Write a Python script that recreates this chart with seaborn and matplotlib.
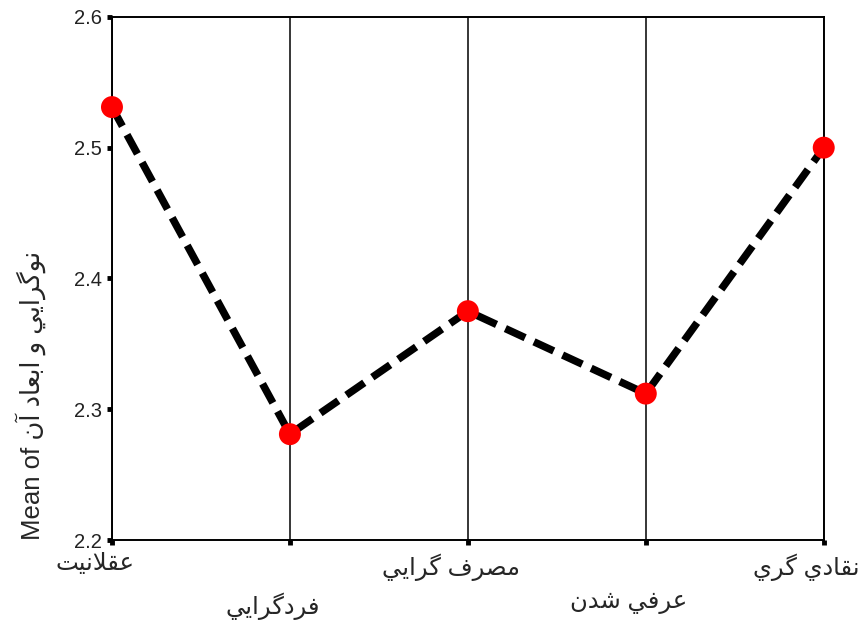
import matplotlib
matplotlib.use('Agg')
import matplotlib.pyplot as plt
import matplotlib.transforms as mtransforms
import seaborn as sns

categories = ['عقلانيت', 'فردگرايي', 'مصرف گرايي', 'عرفي شدن', 'نقادي گري']
means = [2.531, 2.281, 2.375, 2.312, 2.500]
y_ticks = [2.2, 2.3, 2.4, 2.5, 2.6]
y_label_latin = 'Mean of '
y_label_fa = 'نوگرايي و ابعاد آن'

# matplotlib 3.10 has no arabic shaping, so pick the presentation forms by hand
FORMS = {
    '\u0627': ('\uFE8D', '\uFE8E', None, None),
    '\u0622': ('\uFE81', '\uFE82', None, None),
    '\u0628': ('\uFE8F', '\uFE90', '\uFE91', '\uFE92'),
    '\u062A': ('\uFE95', '\uFE96', '\uFE97', '\uFE98'),
    '\u062F': ('\uFEA9', '\uFEAA', None, None),
    '\u0631': ('\uFEAD', '\uFEAE', None, None),
    '\u0634': ('\uFEB5', '\uFEB6', '\uFEB7', '\uFEB8'),
    '\u0635': ('\uFEB9', '\uFEBA', '\uFEBB', '\uFEBC'),
    '\u0639': ('\uFEC9', '\uFECA', '\uFECB', '\uFECC'),
    '\u0641': ('\uFED1', '\uFED2', '\uFED3', '\uFED4'),
    '\u0642': ('\uFED5', '\uFED6', '\uFED7', '\uFED8'),
    '\u0644': ('\uFEDD', '\uFEDE', '\uFEDF', '\uFEE0'),
    '\u0645': ('\uFEE1', '\uFEE2', '\uFEE3', '\uFEE4'),
    '\u0646': ('\uFEE5', '\uFEE6', '\uFEE7', '\uFEE8'),
    '\u0648': ('\uFEED', '\uFEEE', None, None),
    '\u064A': ('\uFEF1', '\uFEF2', '\uFEF3', '\uFEF4'),
    '\u06CC': ('\uFBFC', '\uFBFD', '\uFBFE', '\uFBFF'),
    '\u06AF': ('\uFB92', '\uFB93', '\uFB94', '\uFB95'),
}
LAM_ALEF = 'LA'


def shape(text):
    tokens = []
    i = 0
    while i < len(text):
        if text[i] == '\u0644' and i + 1 < len(text) and text[i + 1] == '\u0627':
            tokens.append(LAM_ALEF)
            i += 2
        else:
            tokens.append(text[i])
            i += 1
    out = []
    for i, c in enumerate(tokens):
        prev = tokens[i - 1] if i > 0 else None
        nxt = tokens[i + 1] if i + 1 < len(tokens) else None
        join_prev = prev in FORMS and FORMS[prev][2] is not None
        if c == LAM_ALEF:
            out.append('\uFEFC' if join_prev else '\uFEFB')
            continue
        if c not in FORMS:
            out.append(c)
            continue
        iso, fin, ini, med = FORMS[c]
        join_next = ini is not None and (nxt in FORMS or nxt == LAM_ALEF)
        if join_prev and join_next:
            out.append(med)
        elif join_prev:
            out.append(fin)
        elif join_next:
            out.append(ini)
        else:
            out.append(iso)
    return ''.join(reversed(out))


sns.set_style('white')
plt.rcParams['font.family'] = ['Liberation Sans', 'DejaVu Sans']

fig = plt.figure(figsize=(8.68, 6.23), dpi=100)
ax = fig.add_axes([0.129, 0.133, 0.820, 0.840])

positions = list(range(len(categories)))
sns.lineplot(x=positions, y=means, ax=ax, color='black', lw=5.4,
             linestyle=(0, (2.9, 1.3)), zorder=3)
sns.scatterplot(x=positions, y=means, ax=ax, color='red', s=250,
                edgecolor='none', zorder=4, clip_on=False)

ax.set_xlim(0, len(categories) - 1)
ax.set_ylim(y_ticks[0], y_ticks[-1])
ax.set_yticks(y_ticks)
ax.set_yticklabels([f'{t:.1f}' for t in y_ticks], fontsize=14.5, color='#222222')
ax.set_xticks(positions)
ax.set_xticklabels([shape(c) for c in categories], fontsize=17.5)

ax.grid(axis='x', color='black', lw=1.1)
ax.grid(axis='y', visible=False)
for side in ['left', 'right', 'top', 'bottom']:
    ax.spines[side].set_visible(True)
    ax.spines[side].set_color('black')
    ax.spines[side].set_linewidth(1.4)
ax.tick_params(axis='both', direction='out', length=3.5, width=3.5, color='black',
               pad=4, bottom=True, left=True)
ax.tick_params(axis='x', pad=6)

# every second label sits one row lower, all a little left of the tick
for i, lab in enumerate(ax.get_xticklabels()):
    dy = 39 / 100 if i % 2 else 0
    offset = mtransforms.ScaledTranslation(-17 / 100, -dy, fig.dpi_scale_trans)
    lab.set_transform(lab.get_transform() + offset)

ax.set_ylabel(y_label_latin + shape(y_label_fa), fontsize=18.5, loc='bottom', labelpad=20)
ax.set_xlabel('')

plt.savefig('out.png', dpi=100)
plt.close()
